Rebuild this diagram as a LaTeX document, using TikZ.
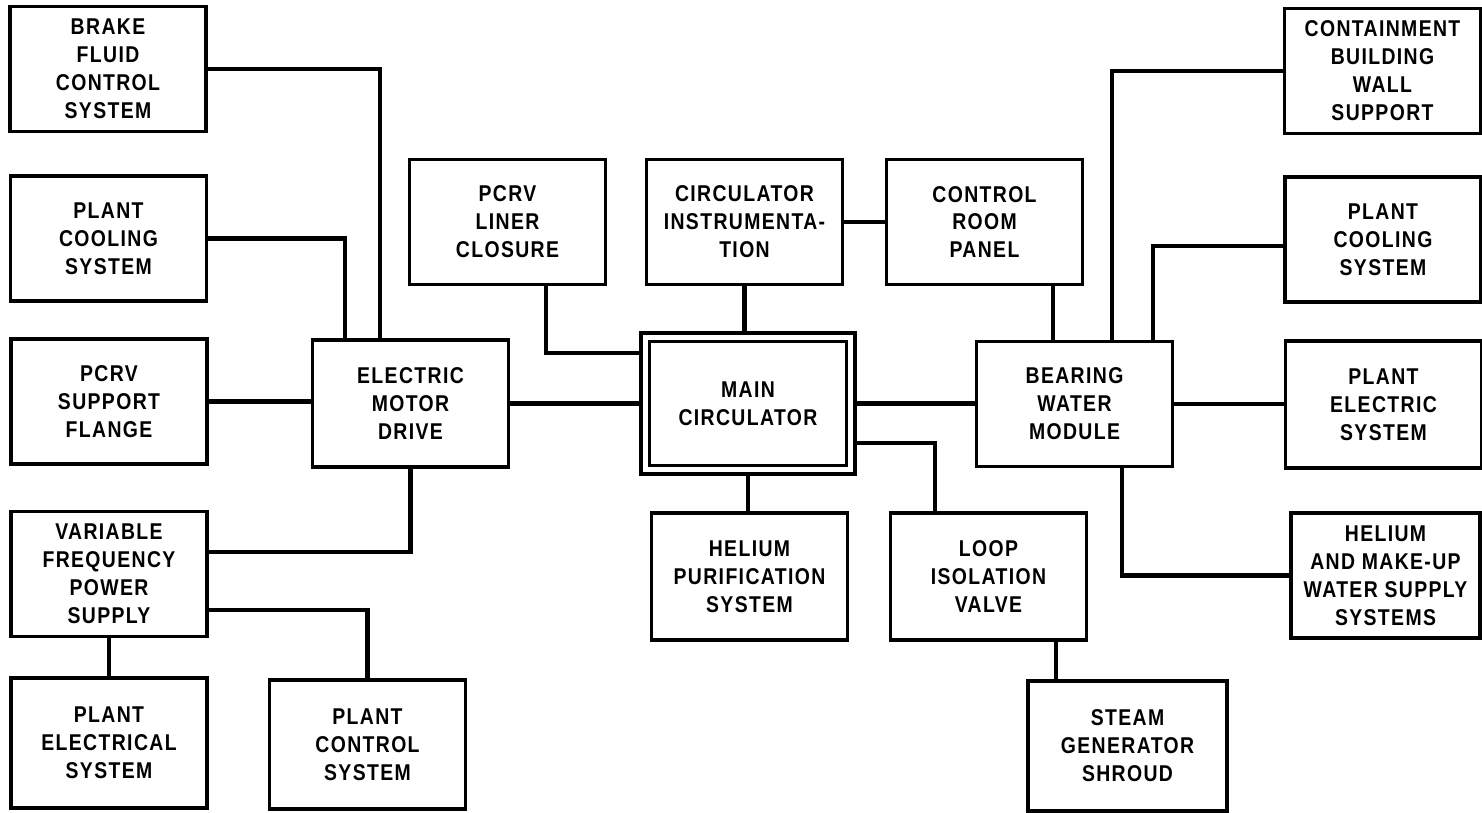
\documentclass[tikz,border=0pt]{standalone}
\usepackage{fontspec}
\newfontfamily\blkfont{Liberation Sans}[FakeStretch=0.85,LetterSpace=6]
\usetikzlibrary{positioning,calc}

\begin{document}
\begin{tikzpicture}[x=0.02cm,y=-0.02cm,
  blk/.style={draw,line width=1.9pt,align=center,inner sep=0pt,
    minimum width=3.92cm,minimum height=2.5cm,
    font=\blkfont\bfseries\fontsize{13}{15.9}\selectfont},
  link/.style={line width=2.6pt}]
\useasboundingbox (0,0) rectangle (1482,813);
% --- left column ---
\node[blk] (brake) at (108,69) {BRAKE\\FLUID\\CONTROL\\SYSTEM};
\node[blk] (coolL) at (108.5,238.5) {PLANT\\COOLING\\SYSTEM};
\node[blk] (flange) at (109,401.5) {PCRV\\SUPPORT\\FLANGE};
\node[blk] (vfps) at (109,574) {VARIABLE\\FREQUENCY\\POWER\\SUPPLY};
\node[blk,minimum height=2.6cm] (pelec) at (109,743) {PLANT\\ELECTRICAL\\SYSTEM};
\node[blk,minimum height=2.58cm] (pctrl) at (367.5,744.5) {PLANT\\CONTROL\\SYSTEM};
% --- middle ---
\node[blk,minimum height=2.54cm] (emd) at (410.5,403.5) {ELECTRIC\\MOTOR\\DRIVE};
\node[blk] (liner) at (507.5,222) {PCRV\\LINER\\CLOSURE};
\node[blk] (instr) at (744.5,222) {CIRCULATOR\\INSTRUMENTA-\\TION};
\node[blk] (panel) at (984.5,222) {CONTROL\\ROOM\\PANEL};
\node[blk,double,double distance=0.1cm,outer sep=0.12cm,
      minimum width=4.12cm,minimum height=2.66cm] (mc) at (748,403.5) {MAIN\\CIRCULATOR};
\node[blk,minimum height=2.54cm] (hepur) at (749.5,576.5) {HELIUM\\PURIFICATION\\SYSTEM};
\node[blk,minimum height=2.54cm] (valve) at (988.5,576.5) {LOOP\\ISOLATION\\VALVE};
\node[blk,minimum width=3.98cm,minimum height=2.6cm] (shroud) at (1127.5,746) {STEAM\\GENERATOR\\SHROUD};
\node[blk] (bwm) at (1074.5,404) {BEARING\\WATER\\MODULE};
% --- right column ---
\node[blk] (contain) at (1382.5,71) {CONTAINMENT\\BUILDING\\WALL\\SUPPORT};
\node[blk] (coolR) at (1383,239.5) {PLANT\\COOLING\\SYSTEM};
\node[blk,minimum height=2.54cm] (pelecR) at (1383.5,404.5) {PLANT\\ELECTRIC\\SYSTEM};
\node[blk,minimum width=3.78cm] (hesup) at (1385.5,575.5) {HELIUM\\AND MAKE-UP\\WATER SUPPLY\\SYSTEMS};

% --- links, left side ---
\draw[link] (brake.east) -| ([xshift=-0.61cm]emd.north);
\draw[link] (coolL.east) -| ([xshift=-1.31cm]emd.north);
\draw[link] (flange.east) -- (flange.east -| emd.west);
\draw[link] ([yshift=0.44cm]vfps.east) -| (emd.south);
\draw[link] ([yshift=-0.72cm]vfps.east) -| (pctrl.north);
\draw[link] (vfps.south) -- (vfps.south |- pelec.north);
% --- links, middle ---
\draw[link] (emd.east) -- (emd.east -| mc.west);
\draw[link] ([xshift=0.77cm]liner.south) |- ([yshift=1.01cm]mc.west);
\draw[link] (instr.south) -- (instr.south |- mc.north);
\draw[link] (instr.east) -- (panel.west);
\coordinate (pnl) at ([xshift=1.37cm]panel.south);
\draw[link] (pnl) -- (pnl |- bwm.north);
\draw[link] (mc.east) -- (mc.east -| bwm.west);
\draw[link] ([yshift=-0.79cm]mc.east) -| ([xshift=-1.07cm]valve.north);
\draw[link] (mc.south) -- (mc.south |- hepur.north);
\coordinate (vlv) at ([xshift=1.35cm]valve.south);
\draw[link] (vlv) -- (vlv |- shroud.north);
% --- links, right side ---
\draw[link] ([xshift=0.75cm]bwm.north) |- (contain.west);
\draw[link] ([xshift=1.57cm]bwm.north) |- ([yshift=-0.13cm]coolR.west);
\draw[link] (bwm.east) -- (bwm.east -| pelecR.west);
\draw[link] ([xshift=0.95cm]bwm.south) |- (hesup.west);
\end{tikzpicture}
\end{document}
